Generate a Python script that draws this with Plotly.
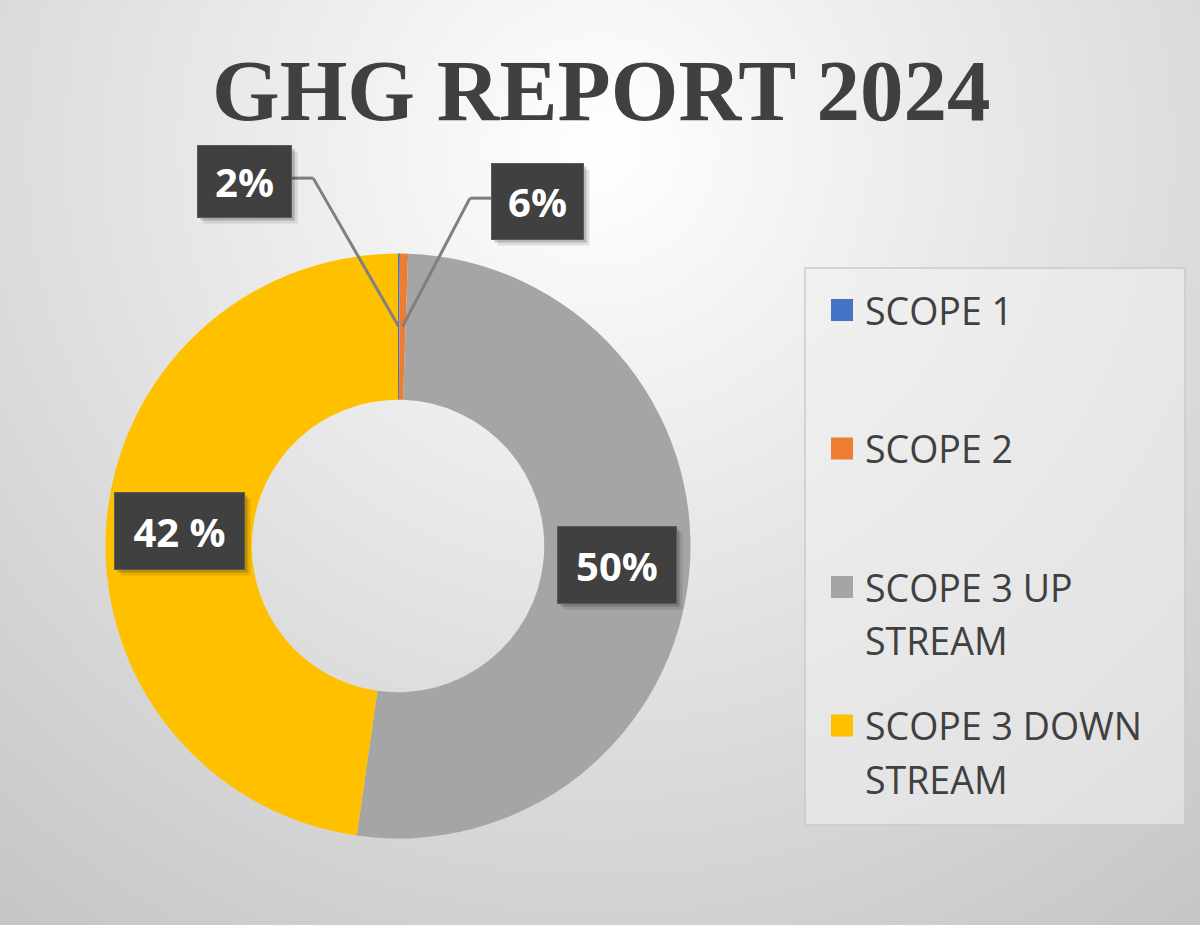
import math
import base64
import plotly.graph_objects as go

# ---------------- data ----------------
categories = ["SCOPE 1", "SCOPE 2", "SCOPE 3 UP STREAM", "SCOPE 3 DOWN STREAM"]
legend_lines = [["SCOPE 1"], ["SCOPE 2"], ["SCOPE 3 UP", "STREAM"], ["SCOPE 3 DOWN", "STREAM"]]
values = [0.1, 0.45, 51.7, 47.75]
label_text = ["2%", "6%", "50%", "42 %"]
colors = ["#4472C4", "#ED7D31", "#A5A5A5", "#FFC000"]
title_text = "GHG REPORT 2024"

# ---------------- layout constants ----------------
W, H = 1200, 925
CX, CY, R = 398, 546, 292.5
HOLE = 0.5
# label offsets (px) from the ring mid-point of each slice, and box sizes
label_offsets = [(-154, -145.5), (135, -125.5), (0, 0), (0, 0)]
label_boxes = [(93, 71), (91, 75), (118, 76), (129, 76)]
leader = [True, True, False, False]


def px2paper(px, py):
    return px / W, 1 - py / H


# background radial gradient (svg data uri)
svg = f"""<svg xmlns='http://www.w3.org/2000/svg' width='{W}' height='{H}' viewBox='0 0 {W} {H}' preserveAspectRatio='none'>
<defs><radialGradient id='g' gradientUnits='userSpaceOnUse' cx='600' cy='150' r='1000'>
<stop offset='0' stop-color='#ffffff'/><stop offset='1' stop-color='#c4c4c4'/></radialGradient></defs>
<rect x='0' y='0' width='{W}' height='{H}' fill='url(#g)'/></svg>"""
bg_uri = "data:image/svg+xml;base64," + base64.b64encode(svg.encode()).decode()

fig = go.Figure()
fig.add_trace(go.Pie(
    labels=categories, values=values, sort=False, direction="clockwise", rotation=0,
    hole=HOLE, marker=dict(colors=colors, line=dict(width=0)),
    textinfo="none", hoverinfo="label+percent", showlegend=False,
    domain=dict(x=[(CX - R) / W, (CX + R) / W], y=[1 - (CY + R) / H, 1 - (CY - R) / H]),
))

shapes = []
annotations = []

# ---------------- data labels ----------------
total = sum(values)
cum = 0.0
r_mid = R * (1 + HOLE) / 2
for i, v in enumerate(values):
    mid = (cum + v / 2) / total * 2 * math.pi
    cum += v
    apx = CX + r_mid * math.sin(mid)
    apy = CY - r_mid * math.cos(mid)
    ax, ay = px2paper(apx, apy)
    dx, dy = label_offsets[i]
    bw, bh = label_boxes[i]
    if leader[i]:
        bx = apx + dx + (bw / 2 if dx < 0 else -bw / 2)
        by = apy + dy - 3
        ex = bx + (22 if dx < 0 else -22)
        p0 = px2paper(bx, by)
        p1 = px2paper(ex, by)
        shapes.append(dict(type="line", xref="paper", yref="paper", x0=p0[0], y0=p0[1],
                           x1=p1[0], y1=p1[1], line=dict(color="#7f7f7f", width=3)))
        shapes.append(dict(type="line", xref="paper", yref="paper", x0=p1[0], y0=p1[1],
                           x1=ax, y1=ay, line=dict(color="#7f7f7f", width=3)))
    # shadow layers
    for off, a in [(6, 0.10), (3, 0.18)]:
        annotations.append(dict(x=ax, y=ay, xref="paper", yref="paper", text=" ",
                                showarrow=False, xshift=dx + off, yshift=-dy - off,
                                xanchor="center", yanchor="middle",
                                width=bw, height=bh, bgcolor=f"rgba(0,0,0,{a})", borderpad=0))
    annotations.append(dict(
        x=ax, y=ay, xref="paper", yref="paper", text=f"<b>{label_text[i]}</b>",
        showarrow=False, xshift=dx, yshift=-dy, width=bw, height=bh,
        xanchor="center", yanchor="middle",
        bgcolor="#404040", bordercolor="#5a5a5a", borderwidth=1, borderpad=0,
        align="center", valign="middle",
        font=dict(family="Open Sans", size=40, color="#ffffff"),
    ))

# ---------------- legend (drawn manually) ----------------
lx0, ly0, lx1, ly1 = 805, 268, 1185, 825
p0 = px2paper(lx0, ly0)
p1 = px2paper(lx1, ly1)
shapes.append(dict(type="rect", xref="paper", yref="paper", x0=p0[0], y0=p0[1], x1=p1[0], y1=p1[1],
                   fillcolor="rgba(240,240,240,0.55)", line=dict(color="rgba(200,200,200,0.9)", width=1.5),
                   layer="below"))
row_y0, row_step, line_step = 310, 138.5, 53.5
for i, lines in enumerate(legend_lines):
    yc = row_y0 + i * row_step
    q0 = px2paper(831, yc - 11)
    q1 = px2paper(853, yc + 11)
    shapes.append(dict(type="rect", xref="paper", yref="paper", x0=q0[0], y0=q0[1], x1=q1[0], y1=q1[1],
                       fillcolor=colors[i], line=dict(width=0)))
    for j, t in enumerate(lines):
        tx, ty = px2paper(863, yc + j * line_step)
        annotations.append(dict(x=tx, y=ty, xref="paper", yref="paper", text=t, showarrow=False,
                                xanchor="left", yanchor="middle",
                                font=dict(family="Open Sans", size=37.5, color="#404040")))

# ---------------- title ----------------
tx, ty = px2paper(601, 90)
annotations.append(dict(x=tx, y=ty, xref="paper", yref="paper", text=f"<b>{title_text}</b>",
                        showarrow=False, xanchor="center", yanchor="middle",
                        font=dict(family="Liberation Serif", size=87, color="#404040")))

fig.update_layout(
    width=W, height=H, margin=dict(l=0, r=0, t=0, b=0),
    paper_bgcolor="#e6e6e6", plot_bgcolor="rgba(0,0,0,0)",
    images=[dict(source=bg_uri, xref="paper", yref="paper", x=0, y=1, sizex=1, sizey=1,
                 sizing="stretch", xanchor="left", yanchor="top", layer="below")],
    shapes=shapes, annotations=annotations,
)

fig.write_html("out.html")
